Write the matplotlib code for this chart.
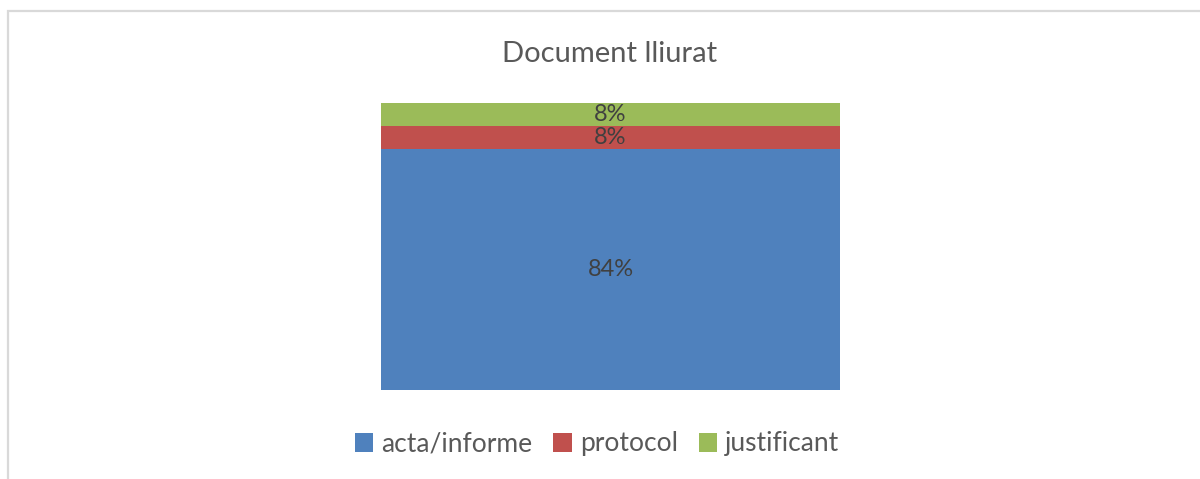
import matplotlib.pyplot as plt
from matplotlib.patches import Rectangle, Patch

# Data
categories = ['acta/informe', 'protocol', 'justificant']
shares = [84, 8, 8]
colors = ['#4f81bd', '#c0504d', '#9bbb59']

plt.rcParams['font.family'] = ['Lato', 'DejaVu Sans']

fig = plt.figure(figsize=(12, 4.79), dpi=100)

# chart-area border (cut off on the right and bottom as in the reference)
fig.patches.append(Rectangle((7.5 / 1200, -0.1), 1.2, 1 - 10.5 / 479 + 0.1,
                             transform=fig.transFigure, fill=False,
                             edgecolor='#d9d9d9', linewidth=1.6))

ax = fig.add_axes([381 / 1200, 1 - 390 / 479, 459 / 1200, 287 / 479])
bottom = 0
for cat, val, col in zip(categories, shares, colors):
    ax.bar(0, val, width=1.0, bottom=bottom, color=col, label=cat)
    ax.text(0, bottom + val / 2, f'{val}%', ha='center', va='center',
            fontsize=17, color='#404040')
    bottom += val

ax.set_xlim(-0.5, 0.5)
ax.set_ylim(0, 100)
ax.axis('off')

fig.text(610 / 1200, 1 - 54 / 479, 'Document lliurat', ha='center', va='center',
         fontsize=21, color='#595959')

handles = [Patch(facecolor=c, label=l) for l, c in zip(categories, colors)]
fig.legend(handles=handles, loc='center', bbox_to_anchor=(597 / 1200, 1 - 444 / 479),
           ncol=3, frameon=False, fontsize=19, labelcolor='#595959',
           handlelength=0.7, handleheight=0.7, handletextpad=0.3, columnspacing=0.8)

fig.savefig('out.png', dpi=100, facecolor='white')
